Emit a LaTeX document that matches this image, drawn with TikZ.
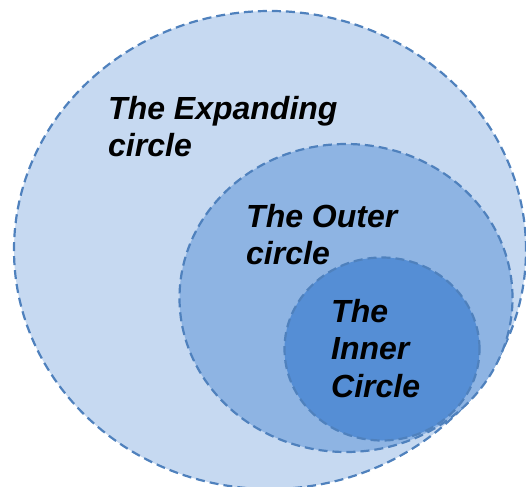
\documentclass[tikz,border=0pt]{standalone}
\usepackage{fontspec}
\setmainfont{Liberation Sans}
\usetikzlibrary{shapes.geometric}
\definecolor{ringline}{HTML}{4F81BD}
\definecolor{expandfill}{HTML}{C6D9F1}
\definecolor{outerfill}{HTML}{8EB4E3}
\definecolor{innerfill}{HTML}{558ED5}
\tikzstyle{ring}=[ellipse, draw=ringline, line width=2.2pt, dash pattern=on 9pt off 5pt, inner sep=0pt]
\tikzstyle{label}=[anchor=north west, inner sep=0pt, align=left, font=\fontsize{32}{37.5}\selectfont\bfseries\itshape]

\begin{document}
\begin{tikzpicture}[x=1pt, y=-1pt]
	\useasboundingbox (0,0) rectangle (526,486);
	\node [style=ring, fill=expandfill, minimum width=512pt, minimum height=478pt] (expanding) at (270, 250) {};
	\node [style=ring, fill=outerfill, minimum width=333pt, minimum height=308pt] (outer) at (346, 298) {};
	\node [style=ring, fill=innerfill, minimum width=195pt, minimum height=183pt] (inner) at (382, 349) {};
	\node [style=label] (expandingtext) at (108, 96) {The Expanding\\circle};
	\node [style=label] (outertext) at (246, 204) {The Outer\\circle};
	\node [style=label] (innertext) at (331, 299) {The\\Inner\\Circle};
\end{tikzpicture}
\end{document}
